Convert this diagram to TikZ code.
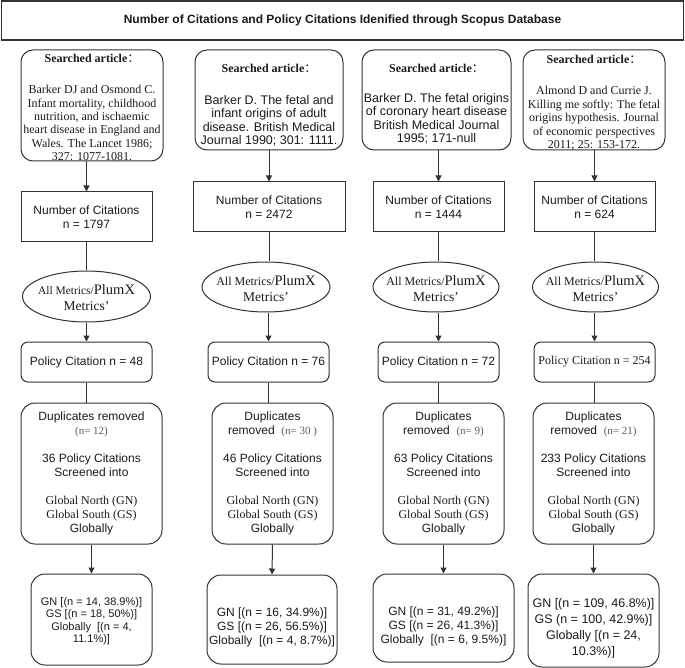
\documentclass[tikz,border=0pt]{standalone}
\usepackage{fontspec}
\setmainfont{Liberation Serif}
\setsansfont{Liberation Sans}
\newfontfamily\cjkf{Noto Sans CJK SC}
\usetikzlibrary{shapes.geometric,arrows.meta}
\definecolor{lc}{HTML}{333333}
\definecolor{tc}{HTML}{1A1A1A}
\definecolor{gc}{HTML}{5A5A5A}
\newcommand\myfs[2]{\fontsize{#1}{#2}\selectfont}
\begin{document}
\begin{tikzpicture}[x=1pt,y=-1pt,
  ln/.style={draw=lc,line width=1pt},
  arr/.style={ln,-{Triangle[length=6pt,width=6pt]}},
  box/.style={draw=lc,line width=1pt,rectangle,inner sep=0pt,align=center,text=tc,font=\sffamily\myfs{12}{14}},
  rbox/.style={box,rounded corners=7pt},
  bbox/.style={box,rounded corners=14pt},
  abox/.style={box,rounded corners=12pt},
  ellbox/.style={draw=lc,line width=1pt,ellipse,inner sep=0pt},
  txt/.style={inner sep=0pt,align=center,text=tc},
  etxt/.style={txt,font=\rmfamily\myfs{13.5}{16}},
]
\useasboundingbox (0,0) rectangle (685,668);
\node[box,line width=1.3pt,minimum width=682pt,minimum height=39pt,font=\sffamily\bfseries\myfs{12}{14}] (title) at (342.5,20.5) {Number of Citations and Policy Citations Idenified through Scopus Database};

% ---------- article boxes (text anchored at the baseline of its last line)
\node[abox,minimum width=142pt,minimum height=111pt] (art1) at (92,105.5) {};
\node[txt,anchor=base,font=\rmfamily\myfs{12}{13.3}] (art1t) at (92,160.5) {\textbf{Searched article}{\cjkf\myfs{12}{13.3}：}\\[17.7pt]Barker DJ and Osmond C.\\Infant mortality, childhood\\nutrition, and ischaemic\\heart disease in England and\\Wales. The Lancet 1986;\\327: 1077-1081.};

\node[abox,minimum width=148pt,minimum height=100pt] (art2) at (269,100) {};
\node[txt,anchor=base,font=\sffamily\myfs{12.5}{13.5}] (art2t) at (269,145) {{\rmfamily\bfseries\myfs{12}{13.5}Searched article}{\cjkf\myfs{12}{13.5}：}\\[18pt]Barker D. The fetal and\\infant origins of adult\\disease. British Medical\\Journal 1990; 301: 1111.};

\node[abox,minimum width=149pt,minimum height=100pt] (art3) at (436.5,100) {};
\node[txt,anchor=base,font=\sffamily\myfs{12.5}{13.5}] (art3t) at (436.5,143) {{\rmfamily\bfseries\myfs{12}{13.5}Searched article}{\cjkf\myfs{12}{13.5}：}\\[16pt]Barker D. The fetal origins\\of coronary heart disease\\British Medical Journal\\1995; 171-null};

\node[abox,minimum width=142pt,minimum height=100pt] (art4) at (594,100) {};
\node[txt,anchor=base,font=\rmfamily\myfs{12}{13.5}] (art4t) at (594,149) {\textbf{Searched article}{\cjkf\myfs{12}{13.5}：}\\[17.5pt]Almond D and Currie J.\\Killing me softly: The fetal\\origins hypothesis. Journal\\of economic perspectives\\2011; 25: 153-172.};

% ---------- number boxes
\node[box,minimum width=131pt,minimum height=50pt] (num1) at (86.5,217) {Number of Citations\\n = 1797};
\node[box,minimum width=152pt,minimum height=50pt] (num2) at (269,207) {Number of Citations\\n = 2472};
\node[box,minimum width=131pt,minimum height=50pt] (num3) at (438.5,207) {Number of Citations\\n = 1444};
\node[box,minimum width=121pt,minimum height=50pt] (num4) at (594.5,207) {Number of Citations\\n = 624};

% ---------- ellipses
\node[ellbox,minimum width=128pt,minimum height=51pt] (ell1) at (86.5,296.5) {};
\node[etxt] (ell1t) at (86.5,298) {{\myfs{11.5}{16}All Metrics/}{\myfs{14.5}{16}PlumX}\\Metrics’};
\node[ellbox,minimum width=128pt,minimum height=50pt] (ell2) at (266,287) {};
\node[etxt] (ell2t) at (266,288.5) {{\myfs{12}{16}All Metrics/}{\myfs{14.5}{16}PlumX}\\Metrics’};
\node[ellbox,minimum width=126pt,minimum height=50pt] (ell3) at (436,287) {};
\node[etxt] (ell3t) at (436,288.5) {{\myfs{12}{16}All Metrics/}{\myfs{14.5}{16}PlumX}\\Metrics’};
\node[ellbox,minimum width=126pt,minimum height=50pt] (ell4) at (595.5,287) {};
\node[etxt] (ell4t) at (595.5,288.5) {{\myfs{12}{16}All Metrics/}{\myfs{14.5}{16}PlumX}\\Metrics’};

% ---------- policy boxes
\node[rbox,minimum width=131pt,minimum height=40pt] (pol1) at (86.5,362) {Policy Citation n = 48};
\node[rbox,minimum width=121pt,minimum height=40pt] (pol2) at (268.5,362) {Policy Citation n = 76};
\node[rbox,minimum width=121pt,minimum height=40pt] (pol3) at (438.5,362) {Policy Citation n = 72};
\node[rbox,minimum width=121pt,minimum height=40pt,font=\rmfamily\myfs{12}{14}] (pol4) at (594.5,362) {Policy Citation n = 254};

% ---------- duplicates boxes
\node[bbox,minimum width=141pt,minimum height=141pt] (dup1) at (91.5,473.5) {Duplicates removed\\{\rmfamily\color{gc}\myfs{11}{14}(n= 12)}\\[14pt]36 Policy Citations\\Screened into\\[14pt]{\rmfamily Global North (GN)}\\{\rmfamily Global South (GS)}\\Globally};
\node[bbox,minimum width=121pt,minimum height=141pt] (dup2) at (272.5,473.5) {Duplicates\\removed\ \ {\rmfamily\color{gc}\myfs{11}{14}(n= 30 )}\\[14pt]46 Policy Citations\\Screened into\\[14pt]{\rmfamily Global North (GN)}\\{\rmfamily Global South (GS)}\\Globally};
\node[bbox,minimum width=121pt,minimum height=141pt] (dup3) at (443.5,473.5) {Duplicates\\removed\ \ {\rmfamily\color{gc}\myfs{11}{14}(n= 9)}\\[14pt]63 Policy Citations\\Screened into\\[14pt]{\rmfamily Global North (GN)}\\{\rmfamily Global South (GS)}\\Globally};
\node[bbox,minimum width=121pt,minimum height=141pt] (dup4) at (593.5,473.5) {Duplicates\\removed\ \ {\rmfamily\color{gc}\myfs{11}{14}(n= 21)}\\[14pt]233 Policy Citations\\Screened into\\[14pt]{\rmfamily Global North (GN)}\\{\rmfamily Global South (GS)}\\Globally};

% ---------- final boxes
\node[bbox,minimum width=121pt,minimum height=91pt] (fin1) at (91.5,619.5) {};
\node[txt,font=\sffamily\myfs{11}{12.5}] (fin1t) at (91.5,621) {GN [(n = 14, 38.9\%)]\\GS [(n = 18, 50\%)]\\Globally\ \ [(n = 4,\\11.1\%)]};
\node[bbox,minimum width=130pt,minimum height=89pt] (fin2) at (272,619.5) {};
\node[txt,font=\sffamily\myfs{12}{14}] (fin2t) at (272,627) {GN [(n = 16, 34.9\%)]\\GS [(n = 26, 56.5\%)]\\Globally\ \ [(n = 4, 8.7\%)]};
\node[bbox,minimum width=141pt,minimum height=88pt] (fin3) at (443.5,618) {};
\node[txt,font=\sffamily\myfs{12}{14}] (fin3t) at (443.5,626) {GN [(n = 31, 49.2\%)]\\GS [(n = 26, 41.3\%)]\\Globally\ \ [(n = 6, 9.5\%)]};
\node[bbox,minimum width=131pt,minimum height=93pt] (fin4) at (593.5,620.5) {};
\node[txt,font=\sffamily\myfs{12.5}{16}] (fin4t) at (593.5,628) {GN [(n = 109, 46.8\%)]\\GS (n = 100, 42.9\%)]\\Globally [(n = 24,\\10.3\%)]};

% ---------- connectors
\foreach \i in {1,2,3,4}{
  \draw[arr] (art\i.south -| num\i.north) -- (num\i.north);
  \draw[ln] (num\i.south) -- (num\i.south |- ell\i.north);
  \draw[arr] (ell\i.south -| pol\i.north) -- (pol\i.north);
  \draw[ln] (pol\i.south) -- (pol\i.south |- dup\i.north);
  \draw[arr] (dup\i.south) -- (fin\i.north);
}
\end{tikzpicture}
\end{document}
